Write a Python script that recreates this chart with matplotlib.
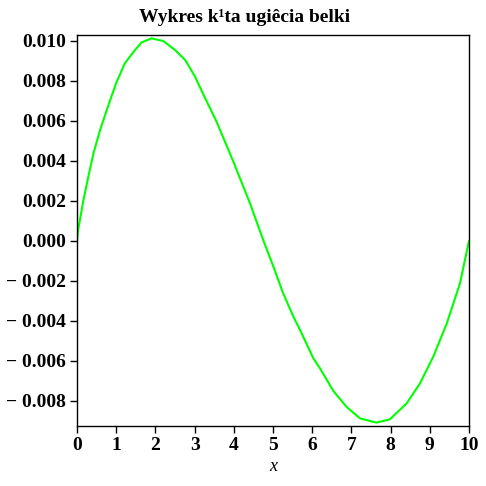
import matplotlib
matplotlib.use("Agg")
import matplotlib.pyplot as plt

# slope of beam deflection
x = [0.0, 0.03, 0.16, 0.29, 0.42, 0.59, 0.76, 1.0, 1.22, 1.48, 1.65, 1.9,
     2.2, 2.5, 2.76, 3.01, 3.25, 3.56, 3.99, 4.41, 4.76, 5.01, 5.26, 5.52,
     5.69, 6.03, 6.2, 6.54, 6.88, 7.22, 7.64, 7.98, 8.41, 8.75, 9.09, 9.43,
     9.77, 10.0]
y = [0.0, 0.00055, 0.0020, 0.00322, 0.00438, 0.00555, 0.00655, 0.0079,
     0.00888, 0.00955, 0.00993, 0.01013, 0.0100, 0.00955, 0.00905, 0.00822,
     0.00722, 0.00597, 0.00396, 0.0019, 0.0, -0.00128, -0.00262, -0.00378,
     -0.00445, -0.00587, -0.00637, -0.00750, -0.00830, -0.00887, -0.00908,
     -0.00892, -0.00812, -0.00712, -0.00578, -0.00414, -0.00212, 0.0]
xticks = list(range(0, 11))
yticks = [-0.008, -0.006, -0.004, -0.002, 0.0, 0.002, 0.004, 0.006, 0.008, 0.010]

plt.rcParams['font.family'] = ['Liberation Serif', 'DejaVu Serif']

fig = plt.figure(figsize=(4.86, 4.86), dpi=100)
ax = fig.add_axes([0.1584, 0.1235, 0.8066, 0.8045])
ax.plot(x, y, color='#00ff00', lw=1.5)
ax.set_xlim(0, 10)
ax.set_ylim(-0.00925, 0.0103)
ax.set_xticks(xticks)
ax.set_xticklabels([str(t) for t in xticks], fontsize=14, fontweight='bold')
ax.set_yticks(yticks)
ax.set_yticklabels(['%.3f' % t if t >= 0 else '\u2212 %.3f' % abs(t) for t in yticks],
                   fontsize=14, fontweight='bold')
ax.tick_params(direction='out', length=5, width=1, pad=3)
for s in ax.spines.values():
    s.set_linewidth(1)
ax.set_xlabel('x', fontsize=13, style='italic', labelpad=3)
fig.text(0.503, 0.963, 'Wykres k\u00b9ta ugi\u00eacia belki', ha='center', va='center',
         fontsize=14, fontweight='bold')

fig.savefig('out.png', dpi=100)
